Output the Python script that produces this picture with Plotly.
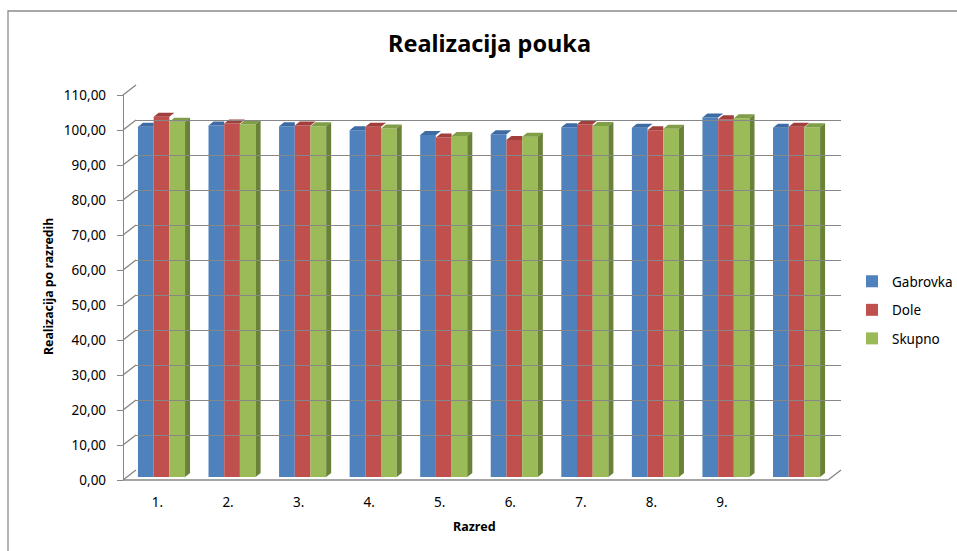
import plotly.graph_objects as go

# ---------------- data ----------------
categories = [1, 2, 3, 4, 5, 6, 7, 8, 9, 10]
category_labels = ["1.", "2.", "3.", "4.", "5.", "6.", "7.", "8.", "9.", ""]
gabrovka = [100.1, 100.4, 100.2, 99.1, 97.7, 97.9, 99.9, 99.8, 102.7, 99.8]
dole = [102.9, 101.0, 100.4, 100.1, 97.0, 96.3, 100.8, 99.1, 102.2, 100.1]
skupno = [101.5, 100.8, 100.2, 99.6, 97.4, 97.2, 100.3, 99.5, 102.5, 99.9]
series_names = ["Gabrovka", "Dole", "Skupno"]
y_tickvals = [0, 10, 20, 30, 40, 50, 60, 70, 80, 90, 100, 110]
y_ticktext = ["0,00", "10,00", "20,00", "30,00", "40,00", "50,00", "60,00",
              "70,00", "80,00", "90,00", "100,00", "110,00"]

# ---------------- geometry / style ----------------
W, H = 957, 551

def PX(p):
    return p / W

def PY(p):
    return 1 - p / H

FONT = "Noto Sans"
front_colors = ["#4F81BD", "#C0504D", "#9BBB59"]
top_colors = ["#3E6BA3", "#A03F3C", "#809D47"]
side_colors = ["#37608F", "#8E3633", "#6A8237"]
GRID = "#878787"

# pixel layout (front axis, back wall, bars) in screen pixels
FRONT_X = 123
FRONT_Y0, FRONT_Y110 = 480, 95
BACK_X0, BACK_X1 = 136, 841
BACK_Y0, BACK_Y110 = 470, 85
BAR_Y0 = 477
UNIT = (FRONT_Y0 - FRONT_Y110) / 110.0
CAT1_X, CAT_STEP = 161.5, 70.56
BAR_PX = 15.7
DEPTH_DX_PX, DEPTH_DY_PX = 5, 4

bar_w = BAR_PX / CAT_STEP
ddx = DEPTH_DX_PX / CAT_STEP
ddy = DEPTH_DY_PX / UNIT

fig = go.Figure()

# invisible traces to create back-wall and front-axis subplots
fig.add_trace(go.Scatter(x=[0], y=[0], xaxis="x2", yaxis="y2", mode="markers",
                         marker=dict(opacity=0), showlegend=False, hoverinfo="skip"))
fig.add_trace(go.Scatter(x=[0], y=[0], xaxis="x3", yaxis="y3", mode="markers",
                         marker=dict(opacity=0), showlegend=False, hoverinfo="skip"))

all_series = [gabrovka, dole, skupno]
offsets = [-1.5 * bar_w, -0.5 * bar_w, 0.5 * bar_w]

for i, (name, vals) in enumerate(zip(series_names, all_series)):
    fig.add_trace(go.Bar(
        x=categories, y=vals, name=name, width=bar_w, offset=offsets[i],
        marker=dict(color=front_colors[i], line=dict(width=0)),
        legendgroup=name, hoverinfo="x+y+name",
    ))

# 3-D top faces built from the data
for i, vals in enumerate(all_series):
    xs, ys = [], []
    for j, (c, v) in enumerate(zip(categories, vals)):
        x0 = c + offsets[i]
        x1 = x0 + bar_w
        nxt = all_series[i + 1][j] if i < 2 else None
        if nxt is not None and nxt > v:
            xs += [x0, x1, x1, x0 + ddx, None]
            ys += [v, v, v + ddy, v + ddy, None]
        else:
            xs += [x0, x1, x1 + ddx, x0 + ddx, None]
            ys += [v, v, v + ddy, v + ddy, None]
    fig.add_trace(go.Scatter(x=xs, y=ys, fill="toself", mode="lines",
                             line=dict(width=0, color=top_colors[i]),
                             fillcolor=top_colors[i], showlegend=False,
                             hoverinfo="skip"))

# side faces for the rightmost series
xs, ys = [], []
for c, v in zip(categories, skupno):
    x1 = c + offsets[2] + bar_w
    xs += [x1, x1 + ddx, x1 + ddx, x1, None]
    ys += [0, ddy, v + ddy, v, None]
fig.add_trace(go.Scatter(x=xs, y=ys, fill="toself", mode="lines",
                         line=dict(width=0, color=side_colors[2]),
                         fillcolor=side_colors[2], showlegend=False,
                         hoverinfo="skip"))

# ---------------- decorations: side-wall diagonals & floor ----------------
shapes = []
line_style = dict(color=GRID, width=1.4)
for v in y_tickvals:
    yf = FRONT_Y0 - v * UNIT
    yb = BACK_Y0 - v * (BACK_Y0 - BACK_Y110) / 110.0
    shapes.append(dict(type="line", xref="paper", yref="paper",
                       x0=PX(FRONT_X), y0=PY(yf), x1=PX(BACK_X0), y1=PY(yb),
                       line=line_style, layer="below"))
floor_front_right = BACK_X1 - (BACK_X0 - FRONT_X)
shapes.append(dict(type="line", xref="paper", yref="paper",
                   x0=PX(FRONT_X), y0=PY(FRONT_Y0), x1=PX(floor_front_right), y1=PY(FRONT_Y0),
                   line=line_style, layer="below"))
shapes.append(dict(type="line", xref="paper", yref="paper",
                   x0=PX(floor_front_right), y0=PY(FRONT_Y0), x1=PX(BACK_X1), y1=PY(BACK_Y0),
                   line=line_style, layer="below"))
# chart-area border (right and bottom edges lie outside the picture)
shapes.append(dict(type="rect", xref="paper", yref="paper",
                   x0=PX(8), y0=PY(11), x1=PX(W + 20), y1=PY(H + 20),
                   line=dict(color="#8C8C8C", width=1.3), layer="below"))

annotations = [
    dict(text="<b>Realizacija pouka</b>", xref="paper", yref="paper",
         x=PX(489), y=PY(43), showarrow=False, xanchor="center", yanchor="middle",
         font=dict(family=FONT, size=23.5, color="#000000")),
    dict(text="<b>Realizacija po razredih</b>", xref="paper", yref="paper",
         x=PX(48), y=PY(287), showarrow=False, textangle=-90,
         xanchor="center", yanchor="middle",
         font=dict(family=FONT, size=12.3, color="#000000")),
    dict(text="<b>Razred</b>", xref="paper", yref="paper",
         x=PX(474), y=PY(526), showarrow=False, xanchor="center", yanchor="middle",
         font=dict(family=FONT, size=12.5, color="#000000")),
]

x_lo = 0.5
x_hi = 10.5
bar_x_left = CAT1_X - 0.5 * CAT_STEP
bar_x_right = bar_x_left + CAT_STEP * (x_hi - x_lo)

fig.update_layout(
    width=W, height=H,
    margin=dict(l=0, r=0, t=0, b=0, pad=0, autoexpand=False),
    paper_bgcolor="white", plot_bgcolor="rgba(0,0,0,0)",
    barmode="overlay",
    font=dict(family=FONT, size=13, color="#000000"),
    showlegend=True,
    legend=dict(x=PX(852), y=PY(266), xanchor="left", yanchor="top",
                font=dict(family=FONT, size=13.5, color="#000000"),
                tracegroupgap=8, bgcolor="rgba(0,0,0,0)",
                itemwidth=30),
    shapes=shapes,
    annotations=annotations,
    # bars
    xaxis=dict(domain=[PX(bar_x_left), PX(bar_x_right)], range=[x_lo, x_hi],
               tickmode="array", tickvals=categories, ticktext=category_labels,
               showgrid=False, zeroline=False, showline=False, ticks="",
               ticklabelstandoff=15, ticklabelshift=-4,
               tickfont=dict(family=FONT, size=13.5, color="#000000"),
               fixedrange=True),
    yaxis=dict(domain=[PY(BAR_Y0), PY(BAR_Y0 - 110 * UNIT)], range=[0, 110],
               showgrid=False, zeroline=False, showline=False,
               showticklabels=False, ticks="", fixedrange=True),
    # back wall gridlines
    xaxis2=dict(domain=[PX(BACK_X0), PX(BACK_X1)], range=[0, 1], visible=False,
                anchor="y2", fixedrange=True),
    yaxis2=dict(domain=[PY(BACK_Y0), PY(BACK_Y110)], range=[0, 110],
                anchor="x2", tickvals=y_tickvals, showgrid=True, gridcolor=GRID,
                gridwidth=1.4, zeroline=False, showline=False,
                showticklabels=False, ticks="", fixedrange=True),
    # front value axis
    xaxis3=dict(domain=[PX(FRONT_X), PX(FRONT_X + 5)], range=[0, 1], visible=False,
                anchor="y3", fixedrange=True),
    yaxis3=dict(domain=[PY(FRONT_Y0), PY(FRONT_Y110)], range=[0, 110],
                anchor="free", position=PX(FRONT_X),
                tickmode="array", tickvals=y_tickvals, ticktext=y_ticktext,
                showgrid=False, zeroline=False, showline=True, linecolor=GRID,
                linewidth=1.4, ticks="outside", ticklen=6, tickcolor=GRID,
                tickwidth=1.4, ticklabelstandoff=8,
                tickfont=dict(family=FONT, size=13.5, color="#000000"),
                fixedrange=True),
)

# remove the default page margin so the 957x551 figure fills the window exactly
page_fix = ("document.body.style.margin='0';"
            "document.documentElement.style.overflow='hidden';"
            "document.body.style.overflow='hidden';")

fig.write_html("out.html", post_script=page_fix,
               config={"displayModeBar": False, "staticPlot": False})
